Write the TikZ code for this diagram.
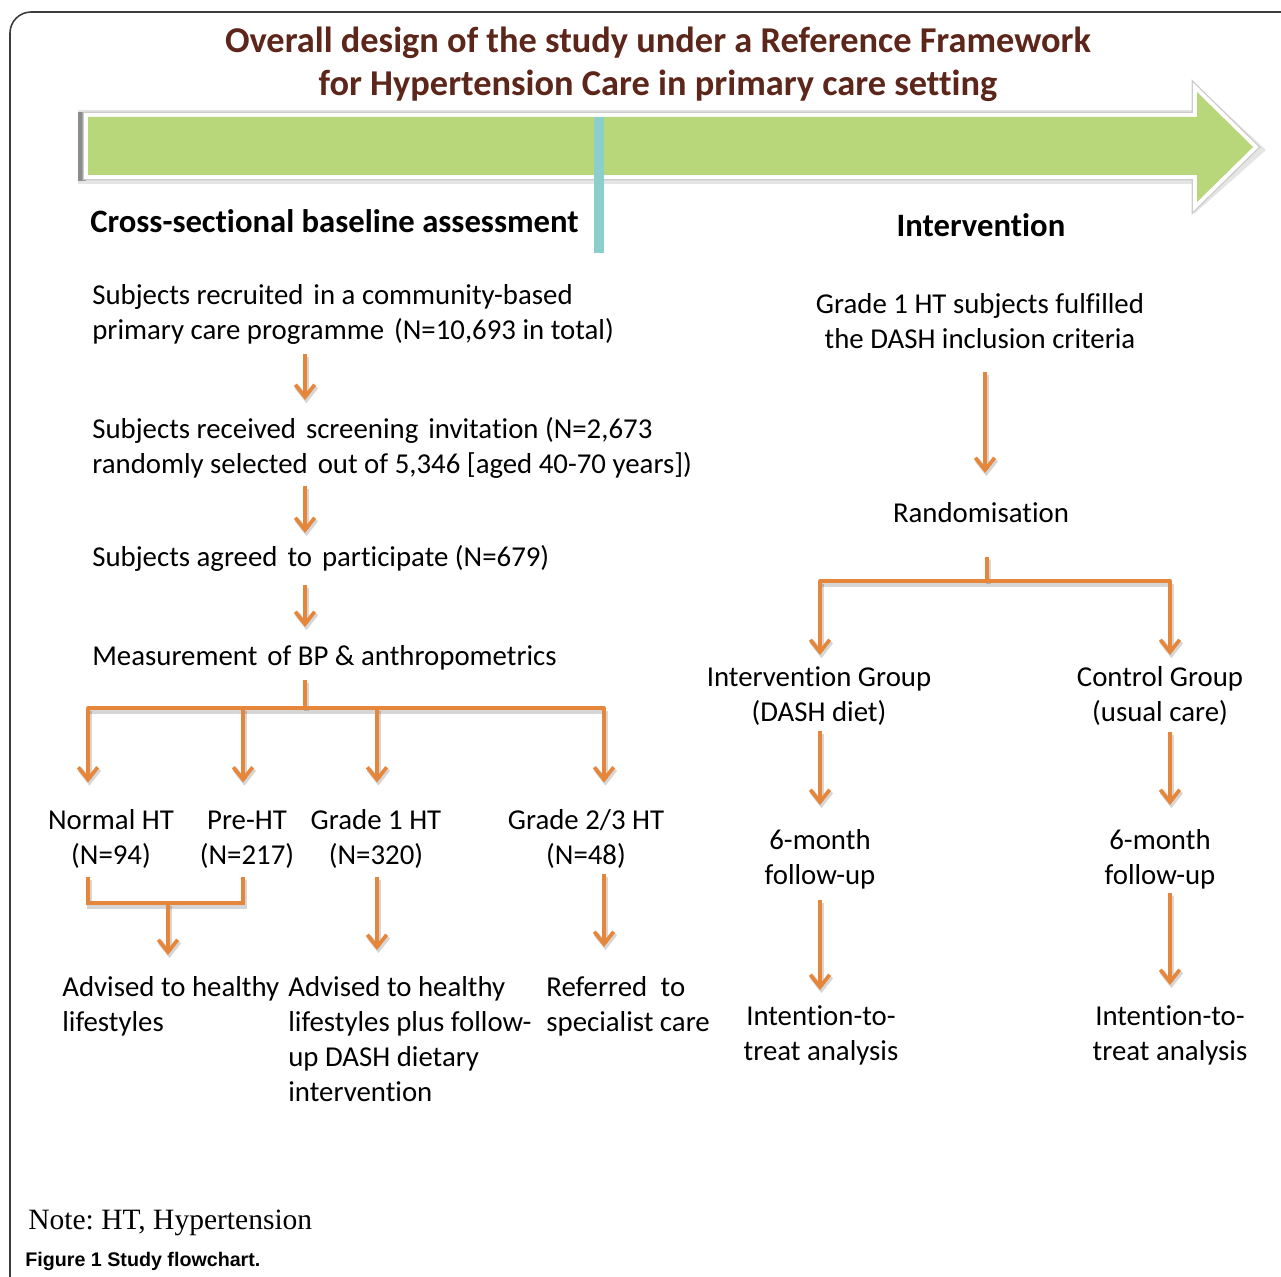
\documentclass[tikz,border=0pt]{standalone}
\usepackage{fontspec}
\setmainfont{Carlito}[Ligatures=NoCommon]
\newfontfamily\notefont{Liberation Serif}
\newfontfamily\capfont{Liberation Sans}
\usetikzlibrary{arrows.meta,calc}
\definecolor{arrorange}{RGB}{230,134,58}
\definecolor{titlebrown}{RGB}{92,38,26}
\definecolor{bargreen}{RGB}{184,214,122}
\definecolor{barteal}{RGB}{140,206,204}
\definecolor{framegray}{RGB}{60,60,60}
\newcommand\xsp{\hspace{0.12em}}
\begin{document}
\frenchspacing
\begin{tikzpicture}[x=0.02cm,y=-0.02cm,
  txt/.style={inner sep=0pt, font=\fontsize{16.4}{19.9}\selectfont, align=left},
  ctxt/.style={inner sep=0pt, font=\fontsize{16.4}{19.9}\selectfont, align=center},
  headtxt/.style={inner sep=0pt, font=\fontsize{18.6}{22}\selectfont\bfseries},
  titletxt/.style={inner sep=0pt, font=\fontsize{20.7}{24.5}\selectfont\bfseries, text=titlebrown, align=center},
  ln/.style={draw=arrorange, line width=2.1pt,
    preaction={draw=black, draw opacity=0.16, line width=3pt, transform canvas={shift={(0.8pt,-1.8pt)}}}},
  arr/.style={ln, -{Straight Barb[length=7pt,width=11pt]}}
]
\useasboundingbox (0,0) rectangle (1281,1277);
\fill[white] (0,0) rectangle (1281,1277);
% frame
\draw[framegray, line width=0.9pt, rounded corners=12] (10,1300) -- (10,12) -- (1300,12);

% title
\node[titletxt, anchor=north] (title) at (658,21.9) {\strut Overall design of the study under a Reference Framework\\for Hypertension Care in primary care setting};

% big timeline arrow
\path[fill=black, opacity=0.10] (78,110) -- (1194,110) -- (1194,83) -- (1266,150) -- (1194,214) -- (1194,184) -- (78,184) -- cycle;
\fill[black!45] (78,112) rectangle (86,181);
\draw[black!20, line width=6pt, line join=miter] (88,117) -- (1197,117) -- (1197,92) -- (1253,147) -- (1197,202) -- (1197,175) -- (88,175) -- cycle;
\draw[white, line width=4.5pt, line join=miter] (88,117) -- (1197,117) -- (1197,92) -- (1253,147) -- (1197,202) -- (1197,175) -- (88,175) -- cycle;
\fill[bargreen] (88,117) -- (1197,117) -- (1197,92) -- (1253,147) -- (1197,202) -- (1197,175) -- (88,175) -- cycle;
\fill[barteal] (594,117) rectangle (604,253);

% headings
\node[headtxt, anchor=base west] (hcross) at (90,233) {Cross-sectional baseline assessment};
\node[headtxt, anchor=base] (hint) at (981,236) {Intervention};

% left column
\node[txt, anchor=north west] (s1) at (92,279.5) {\strut Subjects recruited \xsp in a community-based\\primary care programme \xsp(N=10,693 in total)};
\node[txt, anchor=north west] (s2) at (92,413.5) {\strut Subjects received \xsp screening \xsp invitation (N=2,673\\randomly selected \xsp out of 5,346 [aged 40-70 years])};
\node[txt, anchor=north west] (s3) at (92,541.5) {\strut Subjects agreed \xsp to \xsp participate (N=679)};
\node[txt, anchor=north west] (s4) at (92,640.5) {\strut Measurement \xsp of BP \& anthropometrics};

\node[ctxt, anchor=north] (n1) at (111,804.5) {\strut Normal HT\\(N=94)};
\node[ctxt, anchor=north] (n2) at (247,804.5) {\strut Pre-HT\\(N=217)};
\node[ctxt, anchor=north] (n3) at (376,804.5) {\strut Grade 1 HT\\(N=320)};
\node[ctxt, anchor=north] (n4) at (586,804.5) {\strut Grade 2/3 HT\\(N=48)};

\node[txt, anchor=north west] (o1) at (62,971.5) {\strut Advised to healthy\\lifestyles};
\node[txt, anchor=north west] (o2) at (288,971.5) {\strut Advised to healthy\\lifestyles plus follow-\\up DASH dietary\\intervention};
\node[txt, anchor=north west] (o3) at (546,971.5) {\strut Referred \xsp\xsp to\\specialist care};

% right column
\node[ctxt, anchor=north] (g1) at (980,288.5) {\strut Grade 1 HT subjects fulfilled\\the DASH inclusion criteria};
\node[ctxt, anchor=north] (rand) at (981,497.5) {\strut Randomisation};
\node[ctxt, anchor=north] (ig) at (819,661.5) {\strut Intervention Group\\(DASH diet)};
\node[ctxt, anchor=north] (cg) at (1160,661.5) {\strut Control Group\\(usual care)};
\node[ctxt, anchor=north] (fu1) at (820,824.5) {\strut 6-month\\follow-up};
\node[ctxt, anchor=north] (fu2) at (1160,824.5) {\strut 6-month\\follow-up};
\node[ctxt, anchor=north] (itt1) at (821,1000.5) {\strut Intention-to-\\treat analysis};
\node[ctxt, anchor=north] (itt2) at (1170,1000.5) {\strut Intention-to-\\treat analysis};

% note and caption
\node[inner sep=0pt, anchor=base west, font=\notefont\fontsize{16.8}{20}\selectfont] (note) at (28,1229) {Note: HT, Hypertension};
\node[inner sep=0pt, anchor=base west, font=\capfont\bfseries\fontsize{11.2}{13}\selectfont] (cap) at (25,1266) {Figure 1 Study flowchart.};

% x positions
\coordinate (ax) at (305,0);
\coordinate (mb) at (305,708);
\coordinate (d1) at (88,708);
\coordinate (d2) at (243,708);
\coordinate (d3) at (377,708);
\coordinate (d4) at (604,708);
\coordinate (br1) at (88,903);
\coordinate (br2) at (243,903);
\coordinate (brm) at (168,903);
\coordinate (rx) at (985,0);
\coordinate (rb) at (987,581);
\coordinate (rl) at (820,581);
\coordinate (rr) at (1170,581);

% left connectors
\draw[arr] ($(s1.south -| ax)+(0,9)$) -- ($(s2.north -| ax)+(0,-13.5)$);
\draw[arr] ($(s2.south -| ax)+(0,7)$) -- ($(s3.north -| ax)+(0,-8.5)$);
\draw[arr] ($(s3.south -| ax)+(0,8)$) -- ($(s4.north -| ax)+(0,-13.5)$);
\draw[ln] ($(s4.south -| mb)+(0,4)$) -- (mb);
\draw[ln, line cap=round] (d1) -- (d4);
\draw[arr] (d1) -- ($(d1 |- n1.north)+(0,-22)$);
\draw[arr] (d2) -- ($(d2 |- n2.north)+(0,-22)$);
\draw[arr] (d3) -- ($(d3 |- n3.north)+(0,-22)$);
\draw[arr] (d4) -- ($(d4 |- n4.north)+(0,-22)$);
\draw[ln] ($(n1.south -| br1)+(0,8)$) -- (br1) -- (br2) -- ($(n2.south -| br2)+(0,8)$);
\draw[arr] (brm) -- ($(o1.north -| brm)+(0,-16.5)$);
\draw[arr] ($(n3.south -| d3)+(0,8)$) -- ($(o2.north -| d3)+(0,-21.5)$);
\draw[arr] ($(n4.south -| d4)+(0,5)$) -- ($(o3.north -| d4)+(0,-24.5)$);

% right connectors
\draw[arr] ($(g1.south -| rx)+(0,23)$) -- ($(rand.north -| rx)+(0,-24.5)$);
\draw[ln] ($(rand.south -| rb)+(0,24)$) -- (rb);
\draw[ln, line cap=round] (rl) -- (rr);
\draw[arr] (rl) -- ($(ig.north -| rl)+(0,-6.5)$);
\draw[arr] (rr) -- ($(cg.north -| rr)+(0,-6.5)$);
\draw[arr] ($(ig.south -| rl)+(0,5)$) -- ($(fu1.north -| rl)+(0,-19.5)$);
\draw[arr] ($(cg.south -| rr)+(0,6)$) -- ($(fu2.north -| rr)+(0,-19.5)$);
\draw[arr] ($(fu1.south -| rl)+(0,11)$) -- ($(itt1.north -| rl)+(0,-10.5)$);
\draw[arr] ($(fu2.south -| rr)+(0,4)$) -- ($(itt2.north -| rr)+(0,-15.5)$);
\end{tikzpicture}
\end{document}
